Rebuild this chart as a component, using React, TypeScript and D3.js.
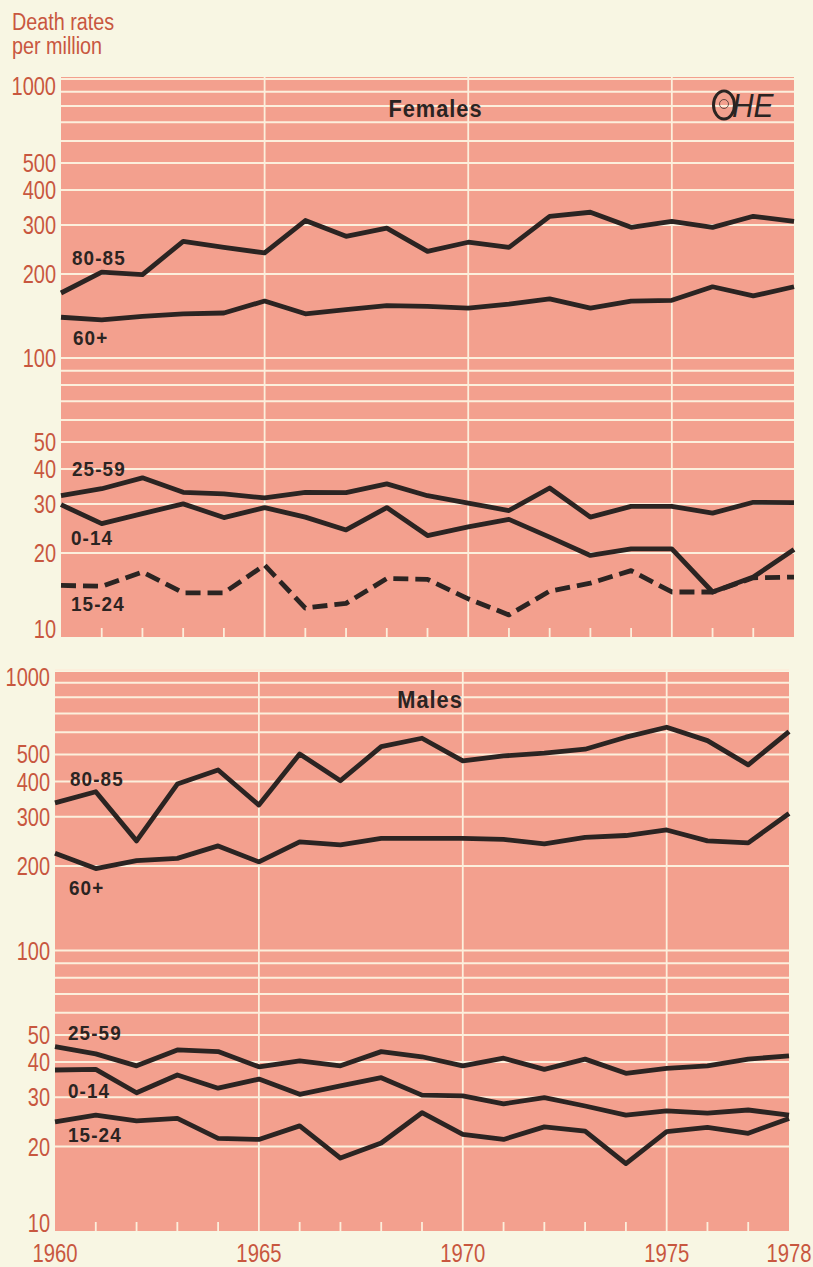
import React from 'react';
import * as d3 from 'd3';

// ---------- data (death rates per million) ----------
const years = [1960, 1961, 1962, 1963, 1964, 1965, 1966, 1967, 1968, 1969, 1970, 1971, 1972, 1973, 1974, 1975, 1976, 1977, 1978];

const female80to85 = [171, 203, 199, 262, 249, 238, 311, 273, 292, 241, 260, 249, 322, 333, 294, 309, 294, 322, 309];
const female60plus = [140, 137, 141, 144, 145, 160, 144, 149, 154, 153, 151, 156, 163, 151, 160, 161, 180, 167, 180];
const female25to59 = [32.1, 34.0, 37.2, 33.0, 32.6, 31.5, 33.0, 32.9, 35.4, 32.1, 30.2, 28.4, 34.2, 26.9, 29.4, 29.4, 27.8, 30.4, 30.3];
const female0to14 = [29.8, 25.5, 27.7, 30.0, 26.8, 29.1, 26.9, 24.2, 29.1, 23.1, 24.8, 26.4, 22.8, 19.6, 20.7, 20.7, 14.5, 16.4, 20.6];
const female15to24 = [15.3, 15.2, 17.1, 14.4, 14.4, 18.1, 12.7, 13.2, 16.2, 16.1, 13.7, 12.0, 14.6, 15.6, 17.3, 14.5, 14.5, 16.3, 16.4];

const male80to85 = [336, 368, 246, 392, 440, 330, 502, 403, 533, 571, 474, 494, 505, 522, 576, 625, 560, 459, 603];
const male60plus = [222, 196, 209, 213, 236, 207, 244, 238, 251, 251, 251, 249, 240, 253, 257, 269, 246, 242, 308];
const male25to59 = [45.4, 42.8, 38.8, 44.2, 43.6, 38.5, 40.4, 38.8, 43.6, 41.8, 38.8, 41.3, 37.7, 41.0, 36.5, 38.0, 38.8, 41.0, 42.1];
const male0to14 = [37.5, 37.7, 31.1, 36.0, 32.3, 34.8, 30.7, 32.9, 35.2, 30.5, 30.3, 28.4, 29.9, 27.9, 25.9, 26.8, 26.3, 27.0, 25.9];
const male15to24 = [24.5, 25.9, 24.7, 25.2, 21.4, 21.2, 23.7, 18.2, 20.6, 26.4, 22.1, 21.2, 23.5, 22.7, 17.4, 22.6, 23.4, 22.3, 25.2];

const seriesNames = ['80-85', '60+', '25-59', '0-14', '15-24'];
const yTickLabels = [1000, 500, 400, 300, 200, 100, 50, 40, 30, 20, 10];
const gridValues = [20, 30, 40, 50, 60, 70, 80, 90, 100, 200, 300, 400, 500, 600, 700, 800, 900, 1000];
const yearLabels = [1960, 1965, 1970, 1975, 1978];
const majorYears = [1965, 1970, 1975];
const minorYears = [1961, 1962, 1963, 1964, 1966, 1967, 1968, 1969, 1971, 1972, 1973, 1974, 1976, 1977];

// ---------- style ----------
const BG = '#f8f6e3';
const PINK = '#f3a08e';
const GRID = '#fcefdc';
const RED = '#c8573f';
const INK = '#2b2422';
const FONT = '"Liberation Sans", Arial, Helvetica, sans-serif';

type Label = { name: string; x: number; y: number };
type PanelSpec = {
  title: string;
  left: number;
  right: number;
  rectTop: number;
  yAt1000: number;
  yAt10: number;
  series: number[][];
  dashed: boolean[];
  labels: Label[];
  showYears: boolean;
};

function CText(props: {
  x: number; y: number; size: number; sx?: number; anchor?: string; weight?: string;
  fill?: string; spacing?: number; italic?: boolean; children: React.ReactNode;
}) {
  const { x, y, size, sx = 1, anchor = 'start', weight = 'normal', fill = RED, spacing = 0, italic = false } = props;
  return (
    <text
      transform={`translate(${x},${y}) scale(${sx},1)`}
      fontSize={size}
      fontFamily={FONT}
      fontWeight={weight}
      fontStyle={italic ? 'italic' : 'normal'}
      textAnchor={anchor}
      fill={fill}
      letterSpacing={spacing}
    >
      {props.children}
    </text>
  );
}

function Panel({ spec }: { spec: PanelSpec }) {
  const x = d3.scaleLinear().domain([years[0], years[years.length - 1]]).range([spec.left, spec.right]);
  const y = d3.scaleLog().domain([10, 1000]).range([spec.yAt10, spec.yAt1000]);
  const line = d3.line<number>().x((_, i) => x(years[i])).y((v) => y(v));
  const bottom = spec.yAt10;
  const cx = (spec.left + spec.right) / 2 + 8;

  return (
    <g>
      <rect x={spec.left} y={spec.rectTop} width={spec.right - spec.left} height={bottom - spec.rectTop} fill={PINK} />
      {gridValues.map((g) => (
        <line key={'g' + g} x1={spec.left} x2={spec.right} y1={y(g)} y2={y(g)} stroke={GRID} strokeWidth={2} />
      ))}
      {majorYears.map((yr) => (
        <line key={'v' + yr} x1={x(yr)} x2={x(yr)} y1={spec.rectTop} y2={bottom} stroke={GRID} strokeWidth={1.8} />
      ))}
      {minorYears.map((yr) => (
        <line key={'t' + yr} x1={x(yr)} x2={x(yr)} y1={bottom - 9} y2={bottom} stroke={GRID} strokeWidth={1.8} />
      ))}
      {yTickLabels.map((t) => {
        let yy = y(t) + 9;
        if (t === 1000) yy += 7;
        if (t === 10) yy -= 8;
        return (
          <CText key={'l' + t} x={spec.left - 5} y={yy} size={25} sx={0.8} anchor="end">
            {t}
          </CText>
        );
      })}
      <CText x={cx} y={spec.yAt1000 + 38} size={23} sx={0.95} anchor="middle" weight="bold" fill={INK} spacing={1}>
        {spec.title}
      </CText>
      {spec.series.map((s, i) => (
        <path
          key={'s' + i}
          d={line(s) || ''}
          fill="none"
          stroke={INK}
          strokeWidth={4.8}
          strokeLinejoin="round"
          strokeDasharray={spec.dashed[i] ? '15 7' : undefined}
        />
      ))}
      {spec.labels.map((l) => (
        <CText key={'n' + l.name} x={l.x} y={l.y} size={21} sx={0.9} weight="bold" fill={INK} spacing={1.2}>
          {l.name}
        </CText>
      ))}
      {spec.showYears &&
        yearLabels.map((yr) => (
          <CText key={'y' + yr} x={x(yr)} y={1262} size={26} sx={0.78} anchor="middle">
            {yr}
          </CText>
        ))}
    </g>
  );
}

const femaleSpec: PanelSpec = {
  title: 'Females',
  left: 61,
  right: 794,
  rectTop: 77,
  yAt1000: 79,
  yAt10: 637,
  series: [female80to85, female60plus, female25to59, female0to14, female15to24],
  dashed: [false, false, false, false, true],
  labels: [
    { name: seriesNames[0], x: 72, y: 265 },
    { name: seriesNames[1], x: 73, y: 345 },
    { name: seriesNames[2], x: 72, y: 476 },
    { name: seriesNames[3], x: 71, y: 545 },
    { name: seriesNames[4], x: 71, y: 611 },
  ],
  showYears: false,
};

const maleSpec: PanelSpec = {
  title: 'Males',
  left: 55,
  right: 789,
  rectTop: 672,
  yAt1000: 670,
  yAt10: 1231,
  series: [male80to85, male60plus, male25to59, male0to14, male15to24],
  dashed: [false, false, false, false, false],
  labels: [
    { name: seriesNames[0], x: 70, y: 786 },
    { name: seriesNames[1], x: 69, y: 895 },
    { name: seriesNames[2], x: 68, y: 1040 },
    { name: seriesNames[3], x: 68, y: 1098 },
    { name: seriesNames[4], x: 68, y: 1142 },
  ],
  showYears: true,
};

export default function App() {
  return (
    <div style={{ position: 'absolute', left: 0, top: 0 }}>
      <svg width={813} height={1267} viewBox="0 0 813 1267" style={{ display: 'block' }}>
        <rect x={0} y={0} width={813} height={1267} fill={BG} />
        <CText x={12} y={30} size={23} sx={0.86}>Death rates</CText>
        <CText x={12} y={54} size={23} sx={0.86}>per million</CText>
        <Panel spec={femaleSpec} />
        <Panel spec={maleSpec} />
        {/* OHE logo */}
        <g>
          <ellipse cx={724} cy={105} rx={10.5} ry={14} fill="none" stroke={INK} strokeWidth={3} />
          <circle cx={724} cy={104} r={4.5} fill="none" stroke={INK} strokeWidth={1} opacity={0.7} />
          <CText x={732} y={117} size={34} sx={0.88} italic fill={INK}>HE</CText>
        </g>
      </svg>
    </div>
  );
}
